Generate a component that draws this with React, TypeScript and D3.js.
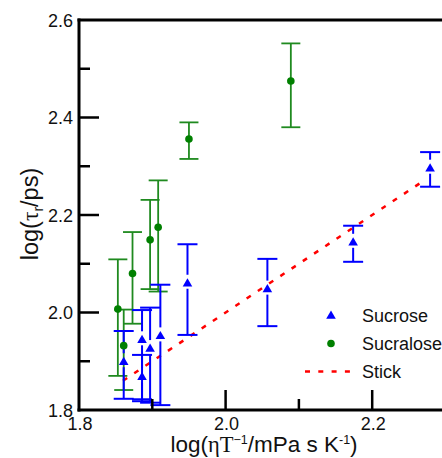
import React, { useEffect, useRef } from 'react';
import * as d3 from 'd3';

// Sucrose (blue triangles) with asymmetric error bars
const sucroseX = [1.861, 1.886, 1.886, 1.897, 1.911, 1.948, 2.057, 2.174, 2.279];
const sucroseY = [1.899, 1.944, 1.868, 1.926, 1.952, 2.060, 2.048, 2.144, 2.296];
const sucroseLo = [1.823, 1.818, 1.822, 1.815, 1.810, 1.954, 1.972, 2.104, 2.258];
const sucroseHi = [1.962, 2.005, 1.913, 2.010, 2.057, 2.140, 2.110, 2.178, 2.329];

// Sucralose (green circles)
const sucraloseX = [1.853, 1.861, 1.873, 1.897, 1.908, 1.950, 2.089];
const sucraloseY = [2.007, 1.932, 2.080, 2.149, 2.175, 2.356, 2.475];
const sucraloseLo = [1.870, 1.841, 1.977, 2.048, 2.043, 2.315, 2.380];
const sucraloseHi = [2.109, 2.006, 2.165, 2.231, 2.271, 2.390, 2.552];

// Stick limit line
const stickX = [1.86, 2.27];
const stickY = [1.86, 2.27];

const xTicks = [1.9, 2.0, 2.1, 2.2];
const xMajor = [false, true, false, true];
const xLabelValues = [1.8, 2.0, 2.2];
const yTicks = [1.9, 2.0, 2.1, 2.2, 2.3, 2.4, 2.5];
const yMajor = [false, true, false, true, false, true, false];
const yLabelValues = [1.8, 2.0, 2.2, 2.4, 2.6];

const legendItems = ['Sucrose', 'Sucralose', 'Stick'];

const BLUE = '#0000ff';
const GREEN = '#008000';
const GREEN_BAR = '#1f8a1f';
const RED = '#ff0000';
const SANS = '"Liberation Sans", Arial, sans-serif';
const SERIF = '"Liberation Serif", "Times New Roman", serif';

const tri = 'M0,-5L4.8,3.2L-4.8,3.2Z';

const App = () => {
  const ref = useRef<SVGSVGElement>(null);

  useEffect(() => {
    const svg = d3.select(ref.current);
    svg.selectAll('*').remove();

    const width = 442;
    const height = 458;
    svg.attr('width', width).attr('height', height);

    const x = d3.scaleLinear().domain([1.8, 2.3]).range([79, 445.5]);
    const y = d3.scaleLinear().domain([1.8, 2.6]).range([410, 20]);

    const g = svg.append('g');

    // Stick line
    g.append('path')
      .datum(stickX.map((v, i) => [v, stickY[i]] as [number, number]))
      .attr('fill', 'none')
      .attr('stroke', RED)
      .attr('stroke-width', 2.5)
      .attr('stroke-dasharray', '5 8.5')
      .attr('d', d3.line().x(d => x(d[0])).y(d => y(d[1])));

    // Sucralose error bars
    sucraloseX.forEach((xv, i) => {
      const cx = x(xv);
      g.append('line')
        .attr('x1', cx).attr('x2', cx)
        .attr('y1', y(sucraloseHi[i])).attr('y2', y(sucraloseLo[i]))
        .attr('stroke', GREEN_BAR).attr('stroke-width', 1.8);
      [sucraloseHi[i], sucraloseLo[i]].forEach(v => {
        g.append('line')
          .attr('x1', cx - 9.5).attr('x2', cx + 9.5)
          .attr('y1', y(v)).attr('y2', y(v))
          .attr('stroke', GREEN_BAR).attr('stroke-width', 1.8);
      });
    });

    // Sucrose error bars (gap around symbol)
    sucroseX.forEach((xv, i) => {
      const cx = x(xv);
      const cy = y(sucroseY[i]);
      g.append('line')
        .attr('x1', cx).attr('x2', cx)
        .attr('y1', y(sucroseHi[i])).attr('y2', cy - 8.5)
        .attr('stroke', BLUE).attr('stroke-width', 2);
      g.append('line')
        .attr('x1', cx).attr('x2', cx)
        .attr('y1', cy + 5.5).attr('y2', y(sucroseLo[i]))
        .attr('stroke', BLUE).attr('stroke-width', 2);
      [sucroseHi[i], sucroseLo[i]].forEach(v => {
        g.append('line')
          .attr('x1', cx - 10).attr('x2', cx + 10)
          .attr('y1', y(v)).attr('y2', y(v))
          .attr('stroke', BLUE).attr('stroke-width', 2);
      });
    });

    g.selectAll('circle.sucralose')
      .data(sucraloseX)
      .enter()
      .append('circle')
      .attr('cx', d => x(d))
      .attr('cy', (d, i) => y(sucraloseY[i]))
      .attr('r', 3.8)
      .attr('fill', GREEN);

    g.selectAll('path.sucrose')
      .data(sucroseX)
      .enter()
      .append('path')
      .attr('d', tri)
      .attr('transform', (d, i) => `translate(${x(d)},${y(sucroseY[i])})`)
      .attr('fill', BLUE);

    // Frame: left, bottom, top
    const ax = svg.append('g').attr('stroke', '#000').attr('stroke-linecap', 'square');
    ax.append('line').attr('x1', 79).attr('x2', 79).attr('y1', y(2.6)).attr('y2', y(1.8)).attr('stroke-width', 3);
    ax.append('line').attr('x1', 79).attr('x2', 445).attr('y1', y(1.8)).attr('y2', y(1.8)).attr('stroke-width', 3);
    ax.append('line').attr('x1', 79).attr('x2', 445).attr('y1', y(2.6)).attr('y2', y(2.6)).attr('stroke-width', 3);

    // Inward ticks
    yTicks.forEach((v, i) => {
      ax.append('line')
        .attr('x1', 79).attr('x2', 79 + (yMajor[i] ? 20 : 11))
        .attr('y1', y(v)).attr('y2', y(v))
        .attr('stroke-width', 2.5).attr('stroke-linecap', 'butt');
    });
    xTicks.forEach((v, i) => {
      ax.append('line')
        .attr('x1', x(v)).attr('x2', x(v))
        .attr('y1', y(1.8)).attr('y2', y(1.8) - (xMajor[i] ? 20 : 11))
        .attr('stroke-width', 2.5).attr('stroke-linecap', 'butt');
    });

    // Tick labels
    svg.selectAll('text.ylab')
      .data(yLabelValues)
      .enter()
      .append('text')
      .attr('x', 73)
      .attr('y', d => y(d) + 6.5)
      .attr('text-anchor', 'end')
      .attr('font-family', SANS)
      .attr('font-size', 18)
      .attr('fill', '#111')
      .text(d => d3.format('.1f')(d));

    svg.selectAll('text.xlab')
      .data(xLabelValues)
      .enter()
      .append('text')
      .attr('x', d => x(d) + 1)
      .attr('y', 430)
      .attr('text-anchor', 'middle')
      .attr('font-family', SANS)
      .attr('font-size', 18)
      .attr('fill', '#111')
      .text(d => d3.format('.1f')(d));

    // Axis titles
    const xt = svg.append('text')
      .attr('x', 264)
      .attr('y', 452)
      .attr('text-anchor', 'middle')
      .attr('font-family', SANS)
      .attr('font-size', 22.5)
      .attr('fill', '#111');
    xt.append('tspan').text('log(');
    xt.append('tspan').attr('font-family', SERIF).text('ηT');
    xt.append('tspan').attr('font-size', 12.5).attr('dy', -8).text('−1');
    xt.append('tspan').attr('dy', 8).text('/mPa s K');
    xt.append('tspan').attr('font-size', 12.5).attr('dy', -8).text('-1');
    xt.append('tspan').attr('dy', 8).text(')');

    const yt = svg.append('text')
      .attr('transform', 'translate(38,214) rotate(-90)')
      .attr('text-anchor', 'middle')
      .attr('font-family', SANS)
      .attr('font-size', 23.5)
      .attr('fill', '#111');
    yt.append('tspan').text('log(');
    yt.append('tspan').attr('font-family', SERIF).text('τ');
    yt.append('tspan').attr('font-size', 14).attr('dy', 5).text('r');
    yt.append('tspan').attr('dy', -5).text('/ps)');

    // Legend
    const lg = svg.append('g');
    legendItems.forEach((name, i) => {
      const ly = 315.5 + i * 28;
      if (i === 0) {
        lg.append('path').attr('d', tri).attr('transform', `translate(331,${ly})`).attr('fill', BLUE);
      } else if (i === 1) {
        lg.append('circle').attr('cx', 331).attr('cy', ly).attr('r', 3.8).attr('fill', GREEN);
      } else {
        lg.append('line')
          .attr('x1', 305).attr('x2', 352)
          .attr('y1', ly).attr('y2', ly)
          .attr('stroke', RED).attr('stroke-width', 2.5)
          .attr('stroke-dasharray', '5 8.3');
      }
      lg.append('text')
        .attr('x', 362)
        .attr('y', ly + 6.5)
        .attr('font-family', SANS)
        .attr('font-size', 18)
        .attr('fill', '#111')
        .text(name);
    });
  }, []);

  return <svg ref={ref} style={{ position: 'absolute', left: 0, top: 0 }}></svg>;
};

export default App;
